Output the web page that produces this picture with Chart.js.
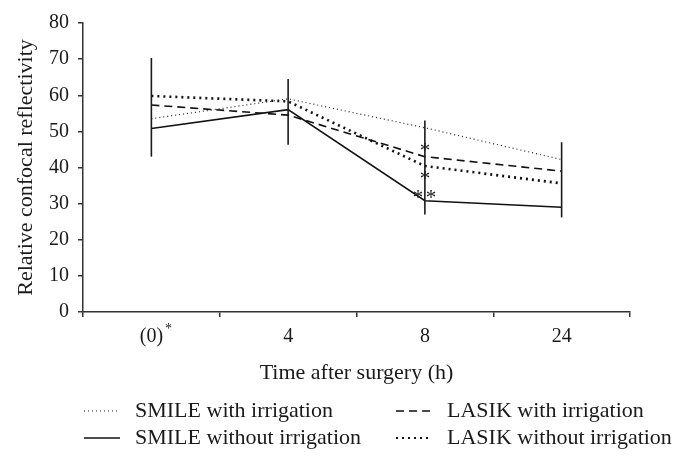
<!DOCTYPE html>
<html>
<head>
<meta charset="utf-8">
<script src="https://cdn.jsdelivr.net/npm/chart.js@4/dist/chart.umd.min.js"></script>
<style>
  html, body { margin: 0; padding: 0; background: #fff; }
  #wrap { width: 683px; height: 468px; }
</style>
</head>
<body>
<div id="wrap"><canvas id="grafica" width="683" height="468"></canvas></div>
<script>
// categorías del eje x (horas tras la cirugía)
const horas = ['(0)', '4', '8', '24'];

// reflectividad relativa por grupo
const smileCon = [53.5, 59, 51, 42.2];
const smileSin = [50.8, 56, 30.8, 29];
const lasikCon = [57.3, 54.5, 43, 39];
const lasikSin = [59.8, 58.3, 40.4, 35.6];

// barras de error (SMILE sin irrigación): mínimo y máximo
const errBajo = [43, 46.3, 27, 26.2];
const errAlto = [70.3, 64.5, 53, 47];

// asteriscos de significancia: categoría, valor, desplazamiento
const estrellasCat = ['8', '8', '8', '8'];
const estrellasVal = [45.7, 38.2, 32.7, 32.7];
const estrellasDx = [0, 0, -7, 6];

const serif = '"Liberation Serif", "DejaVu Serif", serif';
const ink = '#1a1a1a';

const errorBars = {
  id: 'errorBars',
  afterDatasetsDraw(chart) {
    const { ctx, scales: { x, y } } = chart;
    ctx.save();
    ctx.strokeStyle = ink;
    ctx.lineWidth = 1.6;
    horas.forEach((h, i) => {
      const px = x.getPixelForValue(i);
      ctx.beginPath();
      ctx.moveTo(px, y.getPixelForValue(errBajo[i]));
      ctx.lineTo(px, y.getPixelForValue(errAlto[i]));
      ctx.stroke();
    });
    // asteriscos
    ctx.fillStyle = ink;
    ctx.font = '21px ' + serif;
    ctx.textAlign = 'center';
    ctx.textBaseline = 'middle';
    estrellasCat.forEach((c, i) => {
      const px = x.getPixelForValue(horas.indexOf(c)) + estrellasDx[i];
      ctx.fillText('*', px, y.getPixelForValue(estrellasVal[i]) + 5);
    });
    // asterisco superíndice en "(0)"
    const t0 = x.getPixelForValue(0);
    ctx.font = '20px ' + serif;
    const w = ctx.measureText('(0)').width;
    ctx.font = '14px ' + serif;
    ctx.textAlign = 'left';
    ctx.fillText('*', t0 + w / 2 + 2, x.top + 17);
    ctx.restore();
  }
};

const leyenda = {
  id: 'leyenda',
  afterDraw(chart) {
    const { ctx } = chart;
    const items = [
      { ds: 0, x: 84, y: 411, tx: 135 },
      { ds: 1, x: 84, y: 438, tx: 135 },
      { ds: 2, x: 396, y: 411, tx: 447 },
      { ds: 3, x: 396, y: 438, tx: 447 }
    ];
    ctx.save();
    ctx.font = '22px ' + serif;
    ctx.fillStyle = ink;
    ctx.textBaseline = 'middle';
    items.forEach(it => {
      const d = chart.data.datasets[it.ds];
      ctx.strokeStyle = d.borderColor;
      ctx.lineWidth = Math.min(d.borderWidth, 1.8);
      ctx.setLineDash(d.borderDash || []);
      ctx.beginPath();
      ctx.moveTo(it.x, it.y);
      ctx.lineTo(it.x + 36, it.y);
      ctx.stroke();
      ctx.setLineDash([]);
      ctx.fillText(d.label, it.tx, it.y);
    });
    ctx.restore();
  }
};

new Chart(document.getElementById('grafica').getContext('2d'), {
  type: 'line',
  data: {
    labels: horas,
    datasets: [
      {
        label: 'SMILE with irrigation',
        data: smileCon,
        borderColor: '#222', borderWidth: 1.2, borderDash: [1, 3],
        pointRadius: 0, tension: 0, fill: false
      },
      {
        label: 'SMILE without irrigation',
        data: smileSin,
        borderColor: '#111', borderWidth: 1.6,
        pointRadius: 0, tension: 0, fill: false
      },
      {
        label: 'LASIK with irrigation',
        data: lasikCon,
        borderColor: '#111', borderWidth: 1.6, borderDash: [8, 5],
        pointRadius: 0, tension: 0, fill: false
      },
      {
        label: 'LASIK without irrigation',
        data: lasikSin,
        borderColor: '#111', borderWidth: 2.6, borderDash: [2, 4],
        pointRadius: 0, tension: 0, fill: false
      }
    ]
  },
  options: {
    responsive: false,
    animation: false,
    layout: { padding: { left: 0, top: 23, right: 53, bottom: 76 } },
    plugins: { legend: { display: false }, tooltip: { enabled: false } },
    scales: {
      x: {
        offset: true,
        afterFit: s => { s.height = 80; },
        border: { color: '#333', width: 1.5 },
        grid: { drawOnChartArea: false, color: '#333', lineWidth: 1.5, tickLength: 5, offset: true },
        ticks: { color: ink, font: { family: serif, size: 20 }, padding: 8 },
        title: { display: true, text: 'Time after surgery (h)', color: ink, font: { family: serif, size: 22 }, padding: { top: 0, bottom: 6 } }
      },
      y: {
        min: 0, max: 80,
        afterFit: s => { s.width = 83; },
        border: { color: '#333', width: 1.5 },
        grid: { drawOnChartArea: false, color: '#333', lineWidth: 1.5, tickLength: 5 },
        ticks: { stepSize: 10, color: ink, font: { family: serif, size: 20 }, padding: 9 },
        title: { display: true, text: 'Relative confocal reflectivity', color: ink, font: { family: serif, size: 22 }, padding: { top: 13 } }
      }
    }
  },
  plugins: [errorBars, leyenda]
});
</script>
</body>
</html>
